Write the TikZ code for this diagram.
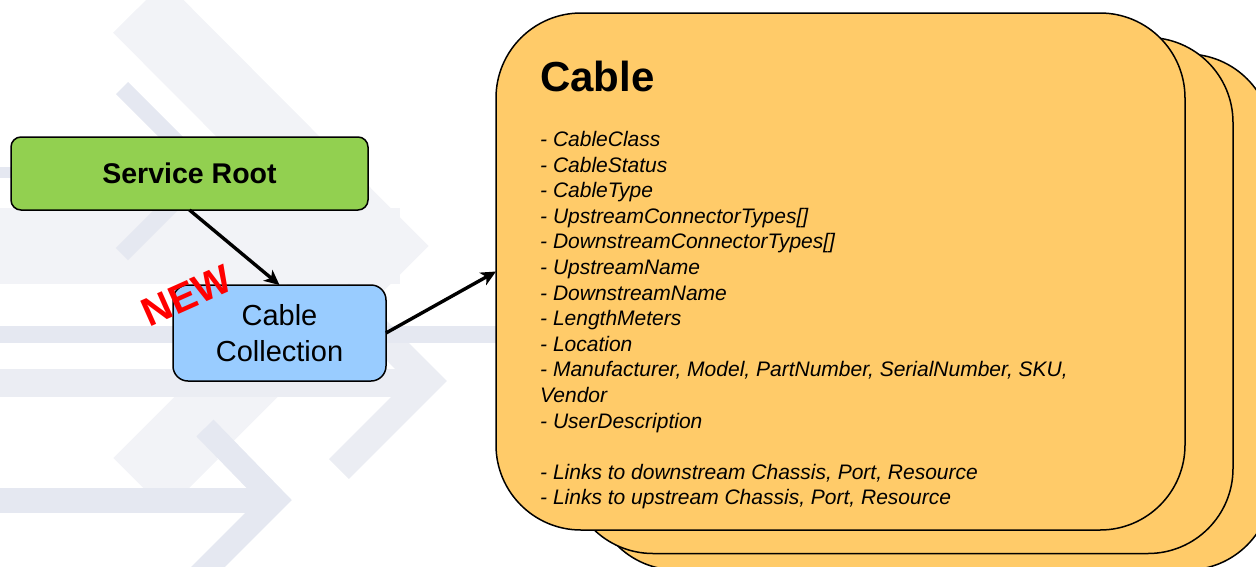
\documentclass[tikz,border=0pt]{standalone}
\usepackage{fontspec}
\setmainfont{Liberation Sans}
\usetikzlibrary{arrows.meta}
\definecolor{wmA}{RGB}{242,243,247}
\definecolor{wmB}{RGB}{235,237,243}
\definecolor{wmC}{RGB}{229,232,241}
\definecolor{rootgreen}{RGB}{146,208,80}
\definecolor{collblue}{RGB}{153,204,255}
\definecolor{cardorange}{RGB}{255,203,105}
\definecolor{newred}{RGB}{255,0,0}
\tikzset{
  wmband/.style={line join=miter, miter limit=10, line cap=butt},
  box/.style={draw=black, line width=1.5pt, outer sep=0pt, inner sep=0pt, align=center},
  card/.style={draw=black, line width=1.5pt, fill=cardorange, rounded corners=85pt, outer sep=0pt, inner sep=0pt, minimum height=516pt},
  conn/.style={line width=3.4pt, -{Stealth[length=15pt,width=14pt,inset=4pt]}},
}
\begin{document}
\begin{tikzpicture}[x=1pt,y=-1pt]
\useasboundingbox (0,0) rectangle (1256,566);
% background watermark
\begin{scope}
\clip (0,0) rectangle (1256,566);
\fill[wmA] (0,208) rectangle (400,284);
\draw[wmA, wmband, line width=73pt] (139,7) -- (377,246) -- (165,458) -- (192,485);
\fill[wmB] (0,369) rectangle (410,397);
\draw[wmB, wmband, line width=28pt] (339,293) -- (427,381) -- (339,469);
\fill[wmC] (0,167) rectangle (200,178);
\draw[wmC, wmband, line width=17pt] (122,88) -- (205,171) -- (122,254);
\fill[wmC] (0,326) rectangle (500,343);
\fill[wmC] (0,488) rectangle (265,513);
\draw[wmC, wmband, line width=24pt] (205,428) -- (275,500) -- (190,585);
\end{scope}
% stacked cards
\node[card, minimum width=680pt] (card3) at (932,312) {};
\node[card, minimum width=665pt] (card2) at (900.5,295.5) {};
\node[card, minimum width=689pt, minimum height=517pt] (cable) at (840.5,271.5) {};
\node[anchor=base west, inner sep=0pt, font=\fontsize{42pt}{50pt}\selectfont\bfseries] (title) at (540,91) {Cable};
\node[anchor=north west, inner sep=0pt, align=left, font=\fontsize{21pt}{25.6pt}\selectfont\itshape] (attrs) at (540,131)
{- CableClass\\
- CableStatus\\
- CableType\\
- UpstreamConnectorTypes[]\\
- DownstreamConnectorTypes[]\\
- UpstreamName\\
- DownstreamName\\
- LengthMeters\\
- Location\\
- Manufacturer, Model, PartNumber, SerialNumber, SKU,\\
Vendor\\
- UserDescription\\[25.6pt]
- Links to downstream Chassis, Port, Resource\\
- Links to upstream Chassis, Port, Resource};
% left boxes
\node[box, fill=rootgreen, rounded corners=10pt, minimum width=357pt, minimum height=73pt,
      font=\fontsize{28.5pt}{34pt}\selectfont\bfseries] (sroot) at (189.5,173.5) {Service Root};
\node[box, fill=collblue, rounded corners=15pt, minimum width=213pt, minimum height=96pt,
      font=\fontsize{29pt}{36pt}\selectfont] (ccol) at (279.5,333) {Cable\\Collection};
\node[text=newred, font=\fontsize{40pt}{46pt}\selectfont\bfseries, rotate=24, inner sep=0pt] (new) at (187,296) {NEW};
% connectors
\draw[conn] (sroot.south) -- (ccol.north);
\draw[conn] (ccol.east) -- (cable.west);
\end{tikzpicture}
\end{document}
